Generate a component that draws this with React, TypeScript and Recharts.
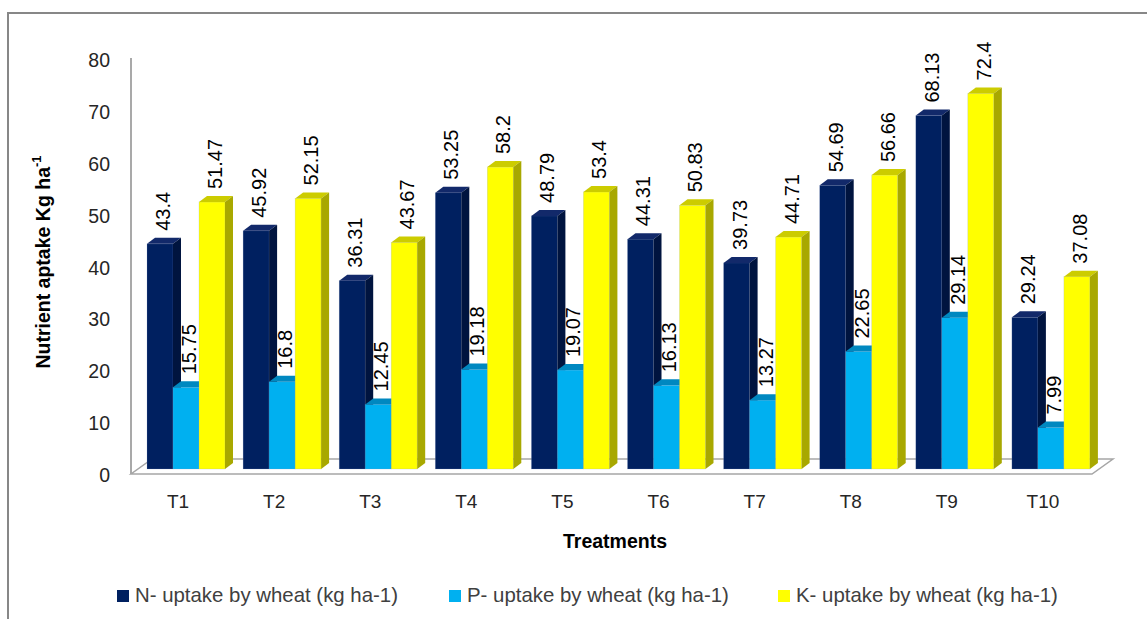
import React from "react";
import { BarChart, Bar, XAxis, YAxis, LabelList } from "recharts";

const categories = ["T1", "T2", "T3", "T4", "T5", "T6", "T7", "T8", "T9", "T10"];
const nUptake = [43.4, 45.92, 36.31, 53.25, 48.79, 44.31, 39.73, 54.69, 68.13, 29.24];
const pUptake = [15.75, 16.8, 12.45, 19.18, 19.07, 16.13, 13.27, 22.65, 29.14, 7.99];
const kUptake = [51.47, 52.15, 43.67, 58.2, 53.4, 50.83, 44.71, 56.66, 72.4, 37.08];
const yTicks = [0, 10, 20, 30, 40, 50, 60, 70, 80];

const series = [
  { key: "n", name: "N- uptake by wheat (kg ha-1)", front: "#002060", top: "#12296a", side: "#00143f" },
  { key: "p", name: "P- uptake by wheat (kg ha-1)", front: "#00b0f0", top: "#0088c0", side: "#0078a8" },
  { key: "k", name: "K- uptake by wheat (kg ha-1)", front: "#ffff00", top: "#cccc00", side: "#a8a800" },
];

const data = categories.map((t, i) => ({ t, n: nUptake[i], p: pUptake[i], k: kUptake[i] }));

const W = 1147;
const H = 619;
const DX = 8; // depth of the 3D bars
const DY = 6;
const FONT = "'Liberation Sans', Arial, sans-serif";

function Bar3D(props: any) {
  const { x, y, width, height, front, top, side } = props;
  if (!height || height <= 0) return null;
  return (
    <g>
      <rect x={x} y={y} width={width} height={height} fill={front} stroke="rgba(140,160,200,0.35)" strokeWidth={0.6} />
      <polygon
        points={`${x},${y} ${x + DX},${y - DY} ${x + width + DX},${y - DY} ${x + width},${y}`}
        fill={top}
      />
      <polygon
        points={`${x + width},${y} ${x + width + DX},${y - DY} ${x + width + DX},${y + height - DY} ${x + width},${y + height}`}
        fill={side}
      />
    </g>
  );
}

function ValueLabel(props: any) {
  const { x, y, width, value } = props;
  const cx = x + width / 2 + 3;
  const cy = y - 13;
  return (
    <text
      x={cx}
      y={cy}
      transform={`rotate(-90, ${cx}, ${cy})`}
      textAnchor="start"
      dominantBaseline="central"
      fontSize={20}
      fontFamily={FONT}
      fill="#000"
    >
      {value}
    </text>
  );
}

function YTick(props: any) {
  const { y, payload } = props;
  return (
    <text x={110} y={y + 6} textAnchor="end" dominantBaseline="central" fontSize={19.5} fontFamily={FONT} fill="#262626">
      {payload.value}
    </text>
  );
}

function XTick(props: any) {
  const { x, payload } = props;
  return (
    <text x={x - 8} y={501} textAnchor="middle" dominantBaseline="central" fontSize={19} fontFamily={FONT} fill="#262626">
      {payload.value}
    </text>
  );
}

// legend square positions along the bottom row
const legendX = [117, 449, 778];

function Backdrop() {
  return (
    <svg width={W} height={H} style={{ position: "absolute", left: 0, top: 0 }}>
      <path d={`M 8 ${H} L 8 13 L ${W} 13`} fill="none" stroke="#878787" strokeWidth={2} />
      <line x1={131} y1={58} x2={131} y2={474} stroke="#8c8c8c" strokeWidth={1.5} />
      <polygon points="131,474 1092,474 1113,459 152,459" fill="#fff" stroke="#a6a6a6" strokeWidth={1.5} />
      <text
        x={43}
        y={262}
        transform="rotate(-90, 43, 262)"
        textAnchor="middle"
        dominantBaseline="central"
        fontSize={19.5}
        fontWeight="bold"
        fontFamily={FONT}
        fill="#000"
      >
        Nutrient aptake Kg ha
        <tspan fontSize={13} dy={-7}>-1</tspan>
      </text>
      <text x={615} y={541} textAnchor="middle" dominantBaseline="central" fontSize={19.5} fontWeight="bold" fontFamily={FONT} fill="#000">
        Treatments
      </text>
      {series.map((s, i) => (
        <g key={s.key}>
          <rect x={legendX[i]} y={590} width={12} height={12} fill={s.front} />
          <text x={legendX[i] + 18} y={595} dominantBaseline="central" fontSize={20.4} fontFamily={FONT} fill="#404040">
            {s.name}
          </text>
        </g>
      ))}
    </svg>
  );
}

export default function App() {
  return (
    <div style={{ position: "absolute", left: 0, top: 0, width: W, height: H, background: "#fff" }}>
      <Backdrop />
      <div style={{ position: "absolute", left: 0, top: 0 }}>
        <BarChart
          width={W}
          height={H}
          data={data}
          margin={{ top: 54, right: 48, bottom: 120, left: 71 }}
          barGap={0}
          style={{ fontFamily: FONT }}
        >
          <XAxis
            dataKey="t"
            padding={{ left: 7, right: 0 }}
            axisLine={false}
            tickLine={false}
            height={30}
            interval={0}
            tick={<XTick />}
          />
          <YAxis
            width={60}
            domain={[0, 80]}
            ticks={yTicks}
            interval={0}
            axisLine={false}
            tickLine={false}
            tick={<YTick />}
          />
          {series.map((s) => (
            <Bar
              key={s.key}
              dataKey={s.key}
              name={s.name}
              barSize={26}
              fill={s.front}
              isAnimationActive={false}
              shape={(p: any) => <Bar3D {...p} front={s.front} top={s.top} side={s.side} />}
            >
              <LabelList dataKey={s.key} content={<ValueLabel />} />
            </Bar>
          ))}
        </BarChart>
      </div>
    </div>
  );
}
